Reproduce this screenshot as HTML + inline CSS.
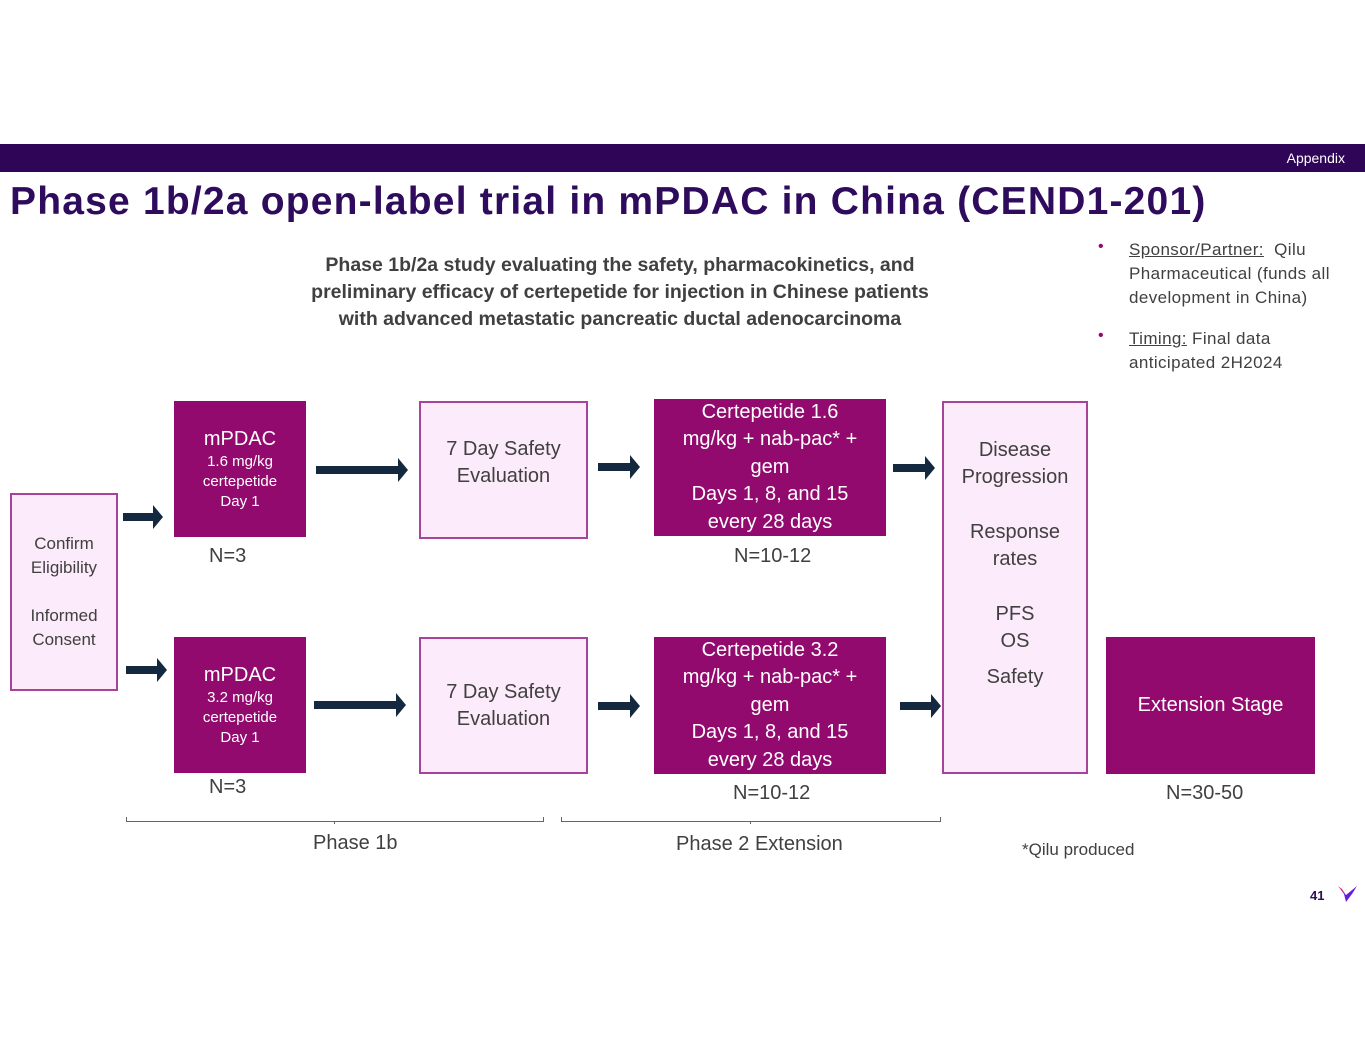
<!DOCTYPE html>
<html><head><meta charset="utf-8"><style>
body{margin:0;width:1365px;height:1055px;position:relative;background:#fff;font-family:"Liberation Sans",sans-serif;overflow:hidden}
.a{position:absolute}
.m{position:absolute;background:#920A6E;color:#fff;display:flex;align-items:center;justify-content:center;text-align:center;box-sizing:border-box}
.l{position:absolute;background:#FCEBFA;border:2px solid #A8439A;color:#404040;display:flex;align-items:center;justify-content:center;text-align:center;box-sizing:border-box}
.t{position:absolute;color:#404040;font-size:20px}
</style></head><body>
<div class="a" style="left:0;top:144px;width:1365px;height:28px;background:#2E0557"></div>
<div class="a" style="right:20px;top:150px;color:#fff;font-size:14px">Appendix</div>
<div class="a" style="left:10px;top:180px;color:#2E0B5C;font-size:39px;font-weight:bold;white-space:nowrap;letter-spacing:1.2px">Phase 1b/2a open-label trial in mPDAC in China (CEND1-201)</div>
<div class="a" style="left:270px;top:252px;width:700px;text-align:center;color:#404040;font-size:19.5px;line-height:27px;font-weight:bold;-webkit-text-stroke:0">Phase 1b/2a study evaluating the safety, pharmacokinetics, and<br>preliminary efficacy of certepetide for injection in Chinese patients<br>with advanced metastatic pancreatic ductal adenocarcinoma</div>
<div class="a" style="left:1098px;top:238px;color:#920A6E;font-size:16px">•</div>
<div class="a" style="left:1129px;top:238px;width:236px;color:#404040;font-size:17px;line-height:24px;letter-spacing:0.4px;white-space:nowrap"><u>Sponsor/Partner:</u>&nbsp; Qilu<br>Pharmaceutical (funds all<br>development in China)</div>
<div class="a" style="left:1098px;top:327px;color:#920A6E;font-size:16px">•</div>
<div class="a" style="left:1129px;top:327px;width:236px;color:#404040;font-size:17px;line-height:24px;letter-spacing:0.4px;white-space:nowrap"><u>Timing:</u> Final data<br>anticipated 2H2024</div>

<div class="l" style="left:10px;top:493px;width:108px;height:198px;font-size:17px;line-height:24px">Confirm<br>Eligibility<br><br>Informed<br>Consent</div>
<div class="m" style="left:174px;top:401px;width:132px;height:136px;font-size:15px;line-height:20px"><div><span style="font-size:20px;line-height:26px">mPDAC</span><br>1.6 mg/kg<br>certepetide<br>Day 1</div></div>
<div class="m" style="left:174px;top:637px;width:132px;height:136px;font-size:15px;line-height:20px"><div><span style="font-size:20px;line-height:26px">mPDAC</span><br>3.2 mg/kg<br>certepetide<br>Day 1</div></div>
<div class="l" style="left:419px;top:401px;width:169px;height:138px;font-size:20px;line-height:27px;padding-bottom:14px">7 Day Safety<br>Evaluation</div>
<div class="l" style="left:419px;top:637px;width:169px;height:137px;font-size:20px;line-height:27px">7 Day Safety<br>Evaluation</div>
<div class="m" style="left:654px;top:399px;width:232px;height:137px;font-size:20px;line-height:27.5px">Certepetide 1.6<br>mg/kg + nab-pac* +<br>gem<br>Days 1, 8, and 15<br>every 28 days</div>
<div class="m" style="left:654px;top:637px;width:232px;height:137px;font-size:20px;line-height:27.5px">Certepetide 3.2<br>mg/kg + nab-pac* +<br>gem<br>Days 1, 8, and 15<br>every 28 days</div>
<div class="l" style="left:942px;top:401px;width:146px;height:373px;font-size:20px;line-height:27.3px;align-items:flex-start;padding-top:34px"><div>Disease<br>Progression<br><br>Response<br>rates<br><br>PFS<br>OS<br><div style="line-height:45px">Safety</div></div></div>
<div class="m" style="left:1106px;top:637px;width:209px;height:137px;font-size:20px">Extension Stage</div>

<div class="t" style="left:209px;top:545px">N=3</div>
<div class="t" style="left:209px;top:776px">N=3</div>
<div class="t" style="left:734px;top:545px">N=10-12</div>
<div class="t" style="left:733px;top:782px">N=10-12</div>
<div class="t" style="left:1166px;top:782px">N=30-50</div>
<div class="t" style="left:313px;top:832px">Phase 1b</div>
<div class="t" style="left:676px;top:833px">Phase 2 Extension</div>
<div class="t" style="left:1022px;top:840px;font-size:17px">*Qilu produced</div>
<div class="a" style="left:1310px;top:888px;color:#2E0B5C;font-size:13px;font-weight:bold">41</div>

<svg class="a" style="left:0;top:0" width="1365" height="1055">
<g fill="#14293F">
<path d="M123 513h30v-8l10 12-10 12v-8h-30z"/>
<path d="M126 666h31v-8l10 12-10 12v-8h-31z"/>
<path d="M316 466h82v-8l10 12-10 12v-8h-82z"/>
<path d="M314 701h82v-8l10 12-10 12v-8h-82z"/>
<path d="M598 463h32v-8l10 12-10 12v-8h-32z"/>
<path d="M598 702h32v-8l10 12-10 12v-8h-32z"/>
<path d="M893 464h32v-8l10 12-10 12v-8h-32z"/>
<path d="M900 702h31v-8l10 12-10 12v-8h-31z"/>
</g>
<g stroke="#666" stroke-width="1" fill="none">
<path d="M126.5 817v4.5h417v-4.5M334.5 821v3"/>
<path d="M561.5 817v4.5h379v-4.5M750.5 821v3"/>
</g>
<path d="M1338 886l8 9 11-9-5 8-6 8-2-8z" fill="#6A1BD8"/>
<path d="M1338 886l4 3 4 6z" fill="#E0207A"/>
</svg>
</body></html>
